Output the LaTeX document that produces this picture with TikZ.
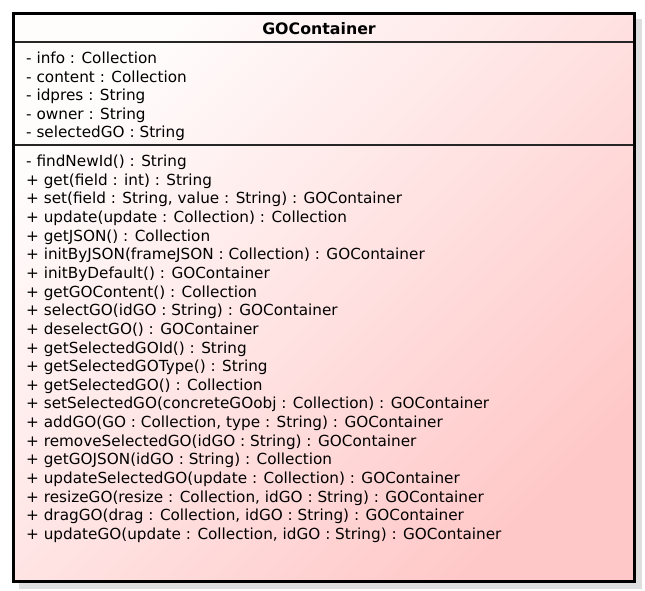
\documentclass[tikz,border=0pt]{standalone}
\usepackage{fontspec}
\setmainfont{DejaVu Sans}
\begin{document}
\begin{tikzpicture}[x=1pt,y=-1pt,
  member/.style={anchor=base west,inner sep=0pt,font=\fontsize{15.25}{17}\selectfont},
  titletext/.style={anchor=base,inner sep=0pt,font=\fontsize{15.8}{17}\selectfont\bfseries},
  sepline/.style={line width=1.3pt,draw=black!85}]
\useasboundingbox (0,0) rectangle (645,590);
\definecolor{pinkend}{RGB}{255,200,200}
\definecolor{pinkstart}{RGB}{255,252,252}
\fill[black!13] (19,19) rectangle (642,589);
\shade[top color=pinkstart,bottom color=pinkend,shading angle=45] (13.5,13.5) rectangle (634.5,581.5);
\draw[line width=3pt] (13.5,13.5) rectangle (634.5,581.5);
\node[titletext] (title) at (319,34.5) {GOContainer};
\coordinate (s1l) at (15,42); \coordinate (s1r) at (633,42);
\coordinate (s2l) at (15,145); \coordinate (s2r) at (633,145);
\draw[sepline] (s1l) -- (s1r);
\draw[sepline] (s2l) -- (s2r);
\foreach \t [count=\i from 0] in {
  {- info : Collection},
  {- content : Collection},
  {- idpres : String},
  {- owner : String},
  {- selectedGO : String}}
  \node[member] (a\i) at (26,63.5+18.5*\i) {\t};
\foreach \t [count=\i from 0] in {
  {- findNewId() : String},
  {+ get(field : int) : String},
  {+ set(field : String, value : String) : GOContainer},
  {+ update(update : Collection) : Collection},
  {+ getJSON() : Collection},
  {+ initByJSON(frameJSON : Collection) : GOContainer},
  {+ initByDefault() : GOContainer},
  {+ getGOContent() : Collection},
  {+ selectGO(idGO : String) : GOContainer},
  {+ deselectGO() : GOContainer},
  {+ getSelectedGOId() : String},
  {+ getSelectedGOType() : String},
  {+ getSelectedGO() : Collection},
  {+ setSelectedGO(concreteGOobj : Collection) : GOContainer},
  {+ addGO(GO : Collection, type : String) : GOContainer},
  {+ removeSelectedGO(idGO : String) : GOContainer},
  {+ getGOJSON(idGO : String) : Collection},
  {+ updateSelectedGO(update : Collection) : GOContainer},
  {+ resizeGO(resize : Collection, idGO : String) : GOContainer},
  {+ dragGO(drag : Collection, idGO : String) : GOContainer},
  {+ updateGO(update : Collection, idGO : String) : GOContainer}}
  \node[member] (m\i) at (26,166.5+18.65*\i) {\t};
\end{tikzpicture}
\end{document}
